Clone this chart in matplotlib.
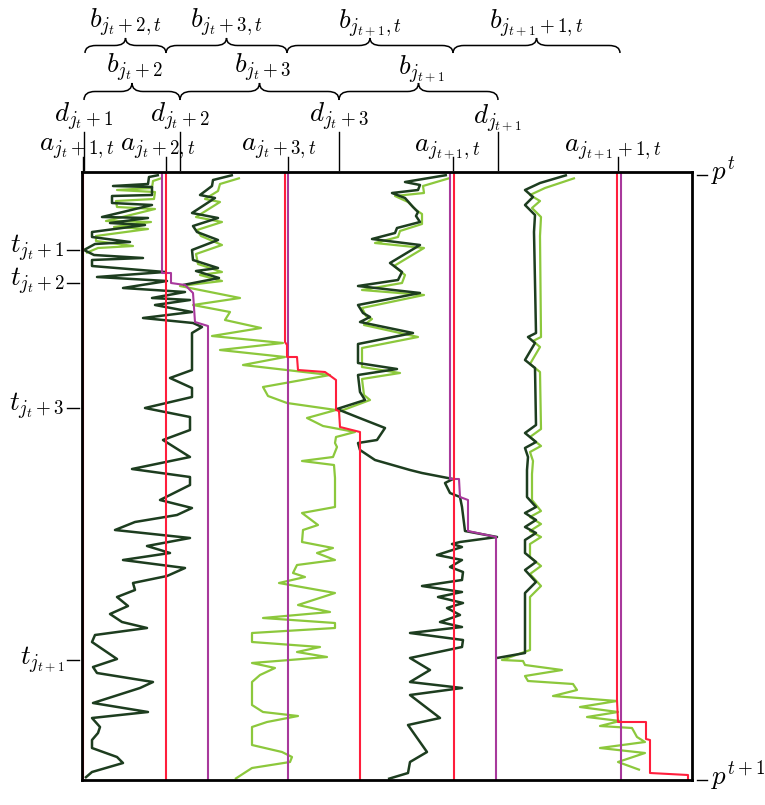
import matplotlib
matplotlib.use("Agg")
import matplotlib.pyplot as plt
from matplotlib.path import Path
from matplotlib.patches import PathPatch

plt.rcParams['mathtext.fontset'] = 'cm'

# curves (x, y) in frame units, y grows downward
dark1 = [(159,175),(149,177),(148,184),(113,186),(152,187),(152,195),(112,196),(112,203),(152,205),
         (102,217),(148,218),(110,223),(145,225),(92,232),(92,237),(130,242),(95,244),(84,250),(94,255),
         (143,258),(92,260),(92,266),(165,272),(97,277),(167,281),(123,288),(185,292),(152,298),(190,300),
         (155,305),(192,312),(143,318),(193,323),(202,327),(192,333),(192,370),(170,378),(192,388),(192,397),
         (145,408),(190,417),(190,430),(163,440),(190,457),(132,469),(190,477),(190,485),(160,500),(192,508),
         (177,515),(135,522),(115,530),(190,538),(147,546),(170,553),(123,560),(185,568),(167,576),(133,583),
         (135,590),(117,597),(128,606),(110,614),(122,622),(147,628),(95,635),(92,642),(117,659),(93,667),
         (97,673),(153,682),(140,688),(93,703),(148,712),(92,718),(100,727),(98,733),(92,740),(92,748),
         (117,757),(123,763),(92,772),(85,778)]
green1 = [(162,178),(153,181),(152,188),(117,190),(155,192),(154,199),(116,201),(117,207),(155,209),
          (106,221),(151,222),(114,227),(148,229),(96,236),(96,241),(133,246),(98,248),(86,253)]
dark2 = [(233,175),(213,180),(212,186),(200,195),(215,198),(192,213),(218,218),(193,226),(197,232),
         (218,240),(192,250),(193,260),(218,268),(196,271),(219,278),(183,285)]
green2 = [(240,178),(220,184),(218,191),(205,199),(220,202),(196,217),(222,222),(197,230),(201,236),
          (222,245),(196,254),(198,264),(222,272),(200,275),(222,281),(180,286),(240,298),(193,305),
          (230,312),(225,320),(261,328),(212,336),(283,343),(220,350),(285,357),(243,365),(330,375),
          (263,387),(268,396),(287,403),(336,410),(307,418),(323,426),(355,432),(336,437),(335,443),
          (337,447),(333,457),(302,461),(334,465),(335,478),(335,507),(302,513),(318,525),(303,530),
          (302,542),(333,548),(317,553),(335,560),(297,565),(293,573),(305,577),(279,583),(335,593),
          (298,605),(330,612),(263,618),(335,623),(335,628),(252,633),(252,642),(320,647),(297,652),
          (327,657),(252,663),(275,668),(260,675),(252,682),(252,705),(263,712),(298,716),(267,722),
          (252,727),(252,745),(282,752),(292,757),(290,762),(252,768),(235,779)]
dark3 = [(447,175),(405,182),(420,185),(418,190),(392,193),(405,198),(413,207),(418,212),(416,216),
         (420,222),(397,228),(395,233),(372,239),(420,245),(390,263),(402,272),(398,280),(358,286),
         (420,293),(358,305),(363,313),(370,317),(360,322),(413,333),(358,344),(358,363),(397,369),
         (358,375),(360,392),(365,400),(337,409),(357,417),(385,428),(377,440),(358,443),(360,450),
         (375,460),(410,470),(422,473),(453,479),(445,483),(450,493),(460,497),(462,507),(465,531),
         (497,537),(460,542),(452,544),(462,547),(437,555),(462,560),(450,567),(463,572),(462,580),
         (422,586),(462,592),(438,597),(463,603),(447,608),(460,615),(440,622),(462,627),(410,633),
         (463,640),(462,647),(410,658),(430,670),(410,682),(462,688),(410,695),(440,718),(408,725),
         (427,752),(410,762),(408,773),(388,779)]
green3 = [(450,178),(423,186),(424,193),(395,196),(408,202),(416,210),(422,214),(422,224),(400,231),
          (398,237),(375,243),(424,248),(394,266),(405,275),(402,283),(362,290),(424,295),(362,308),
          (366,316),(372,319),(364,325),(418,337),(362,348),(362,367),(400,373),(362,379),(364,395),
          (370,400),(338,412)]
dark4 = [(567,175),(540,183),(525,190),(533,197),(525,205),(535,215),(534,232),(536,333),(528,337),
         (535,343),(525,360),(535,368),(536,425),(525,433),(536,442),(525,448),(528,457),(527,470),
         (527,497),(536,507),(525,513),(536,520),(525,527),(536,533),(525,540),(525,553),(536,562),
         (525,570),(536,582),(525,593),(525,653),(497,658)]
green4 = [(575,178),(545,188),(530,195),(540,201),(532,208),(541,217),(540,236),(541,337),(533,341),
          (540,347),(530,364),(540,372),(541,429),(530,437),(541,446),(530,452),(533,461),(532,474),
          (532,500),(541,511),(530,517),(541,524),(530,531),(541,537),(530,544),(530,557),(541,566),
          (530,574),(541,586),(530,597),(530,650),(502,660),(523,661),(525,665),(562,670),(525,676),
          (528,681),(573,684),(577,690),(553,696),(617,701),(580,707),(618,712),(587,717),(620,721),
          (600,726),(632,728),(637,737),(645,742),(600,748),(645,753),(618,762),(640,770)]

red_lines = [
    [(83,172),(83,780)],
    [(166,172),(166,780)],
    [(285,172),(285,342),(287,345),(287,357),(297,357),(298,370),(325,372),(336,380),(336,410),
     (339,411),(340,427),(360,432),(360,780)],
    [(454,172),(454,780)],
    [(617,172),(617,700),(618,722),(646,722),(646,739),(650,740),(650,773),(688,775),(688,780)],
]
magenta_lines = [
    [(162,172),(162,273),(171,273),(171,283),(185,285),(193,293),(195,322),(208,326),(208,780)],
    [(288,172),(288,780)],
    [(450,172),(450,479),(459,479),(460,497),(468,500),(468,531),(496,537),(496,780)],
    [(621,172),(621,780)],
]

a_ticks = [83, 166, 288, 453, 618]
a_labels = [r'$a_{j_t+1,t}$', r'$a_{j_t+2,t}$', r'$a_{j_t+3,t}$', r'$a_{j_{t+1},t}$', r'$a_{j_{t+1}+1,t}$']
a_label_x = [77, 158, 279, 447, 613]
d_ticks = [84, 180, 339, 498]
d_labels = [r'$d_{j_t+1}$', r'$d_{j_t+2}$', r'$d_{j_t+3}$', r'$d_{j_{t+1}}$']
b_lower = [r'$b_{j_t+2}$', r'$b_{j_t+3}$', r'$b_{j_{t+1}}$']
b_upper_edges = [85, 166, 287, 453, 620]
b_upper = [r'$b_{j_t+2,t}$', r'$b_{j_t+3,t}$', r'$b_{j_{t+1},t}$', r'$b_{j_{t+1}+1,t}$']
t_ticks = [250, 283, 408, 660]
t_labels = [r'$t_{j_t+1}$', r'$t_{j_t+2}$', r'$t_{j_t+3}$', r'$t_{j_{t+1}}$']
p_ticks = [175, 780]
p_labels = [r'$p^t$', r'$p^{t+1}$']

RED = '#ff1e3c'
MAG = '#a8399c'
DARK = '#1d3d1f'
LIGHT = '#8cc83c'
FS = 19.5

fig = plt.figure(figsize=(7.65, 8.05), dpi=100)
ax = fig.add_axes([82/765, 25/805, 610/765, 608/805])
ax.set_xlim(82, 692)
ax.set_ylim(780, 172)
ax.set_xticks([])
ax.set_yticks([])
for s in ax.spines.values():
    s.set_linewidth(2.0)
    s.set_zorder(10)


def draw(pts, **kw):
    xs, ys = zip(*pts)
    ax.plot(xs, ys, solid_joinstyle='round', solid_capstyle='butt', **kw)


for g in (green1, green2, green3, green4):
    draw(g, color=LIGHT, lw=1.6, zorder=2)
for d in (dark1, dark2, dark3, dark4):
    draw(d, color=DARK, lw=1.8, zorder=3)
for m in magenta_lines:
    draw(m, color=MAG, lw=1.5, zorder=4)
for r in red_lines:
    draw(r, color=RED, lw=1.5, zorder=5)


def brace(x0, x1, y_tip, h, r=11):
    xc = (x0 + x1) / 2
    ym = y_tip - h * 0.5
    verts = [(x0, y_tip), (x0, ym), (x0 + r, ym), (xc - r, ym), (xc, ym), (xc, y_tip - h),
             (xc, ym), (xc + r, ym), (x1 - r, ym), (x1, ym), (x1, y_tip)]
    codes = [Path.MOVETO, Path.CURVE3, Path.CURVE3, Path.LINETO, Path.CURVE3, Path.CURVE3,
             Path.CURVE3, Path.CURVE3, Path.LINETO, Path.CURVE3, Path.CURVE3]
    ax.add_patch(PathPatch(Path(verts, codes), fc='none', ec='black', lw=1.1, clip_on=False))


txt = dict(fontsize=FS, clip_on=False, color='black')

# ticks along the top edge
for x in a_ticks:
    ax.plot([x, x], [157, 170], color='black', lw=1.0, clip_on=False)
for x in d_ticks:
    ax.plot([x, x], [132, 170], color='black', lw=1.0, clip_on=False)
for x, lab in zip(a_label_x, a_labels):
    ax.text(x, 150, lab, ha='center', va='baseline', **txt)
for x, lab in zip(d_ticks, d_labels):
    ax.text(x, 122, lab, ha='center', va='baseline', **txt)

# lower braces between d ticks
for i, lab in enumerate(b_lower):
    x0, x1 = d_ticks[i], d_ticks[i + 1]
    brace(x0, x1, 100, 17)
    ax.text((x0 + x1) / 2 + 3, 73, lab, ha='center', va='baseline', **txt)

# upper braces between a ticks
for i, lab in enumerate(b_upper):
    x0, x1 = b_upper_edges[i], b_upper_edges[i + 1]
    brace(x0, x1, 53, 15)
    ax.text((x0 + x1) / 2, 27, lab, ha='center', va='baseline', **txt)

# left t ticks
for y, lab in zip(t_ticks, t_labels):
    ax.plot([67, 79], [y, y], color='black', lw=1.0, clip_on=False)
    ax.text(65, y + 3, lab, ha='right', va='baseline', **txt)

# right p ticks
for y, lab in zip(p_ticks, p_labels):
    ax.plot([697, 707], [y, y], color='black', lw=1.0, clip_on=False)
    ax.text(711, y + 5, lab, ha='left', va='baseline', **txt)

fig.savefig('out.png', dpi=100)
